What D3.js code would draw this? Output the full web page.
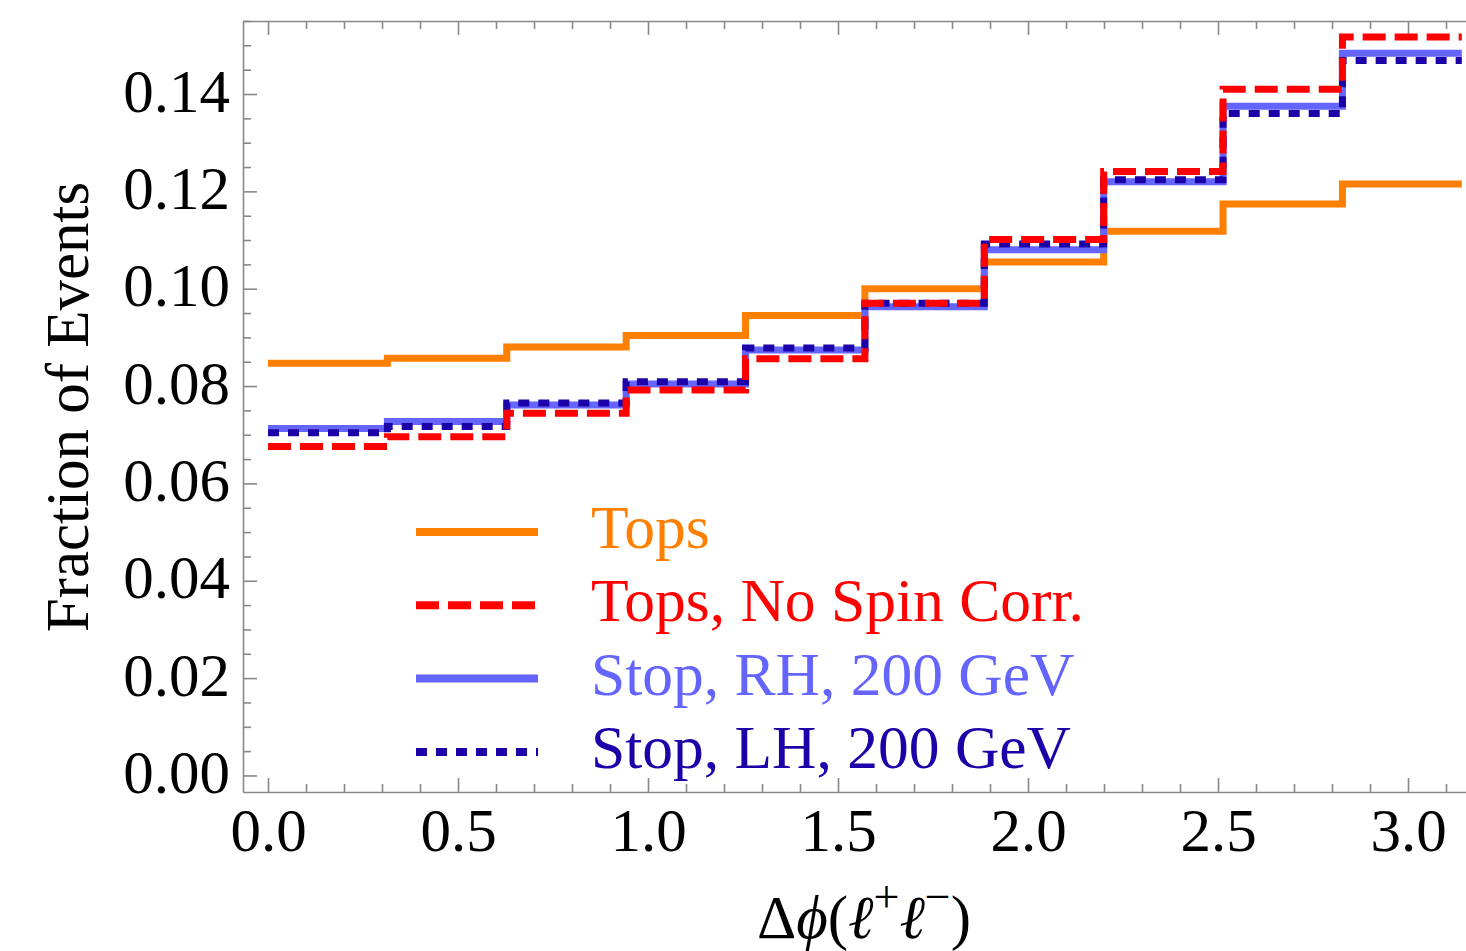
<!DOCTYPE html>
<html>
<meta charset="utf-8">
<style>
  body { margin: 0; background: #fff; }
  text { font-family: "Liberation Serif", "Times New Roman", serif; }
  .axis path, .axis line { stroke: #888; stroke-width: 1.6px; }
  .axis text { fill: #000; font-size: 61px; font-family: "Liberation Serif", "Times New Roman", serif; }
</style>
<body>
<div id="viz"></div>
<script src="https://d3js.org/d3.v7.min.js"></script>
<script>
  // bin lower edges: 10 bins of width pi/10
  var nBins = 10;
  var binEdges = d3.range(nBins + 1).map(function(i) { return i * Math.PI / nBins; });

  var seriesNames = ["Tops", "Tops, No Spin Corr.", "Stop, RH, 200 GeV", "Stop, LH, 200 GeV"];
  var tops       = [0.0847, 0.0857, 0.0880, 0.0904, 0.0945, 0.1000, 0.1055, 0.1118, 0.1174, 0.1215];
  var topsNoSpin = [0.0676, 0.0696, 0.0744, 0.0792, 0.0856, 0.0970, 0.1101, 0.1241, 0.1410, 0.1517];
  var stopRH     = [0.0713, 0.0727, 0.0761, 0.0804, 0.0874, 0.0963, 0.1080, 0.1220, 0.1375, 0.1484];
  var stopLH     = [0.0704, 0.0717, 0.0765, 0.0809, 0.0878, 0.0970, 0.1092, 0.1224, 0.1360, 0.1469];

  var yMajorTicks = [0, 0.02, 0.04, 0.06, 0.08, 0.10, 0.12, 0.14];
  var xMajorTicks = [0, 0.5, 1.0, 1.5, 2.0, 2.5, 3.0];

  var styles = [
    { color: "#ff7f00", dash: null },
    { color: "#ff0000", dash: "23,9" },
    { color: "#6464ff", dash: null },
    { color: "#1c00a8", dash: "11,9" }
  ];

  var W = 1466, H = 951;
  var svg = d3.select("#viz").append("svg").attr("width", W).attr("height", H);

  // careful: "top" is taken by window.top
  var pLeft = 243, pRight = 1466, pTop = 21, pBottom = 792;
  var x = d3.scaleLinear().domain([-0.0658, 3.1526]).range([pLeft, pRight]);
  var y = d3.scaleLinear().domain([-0.0034, 0.155]).range([pBottom, pTop]);

  // minor ticks
  var xMinor = d3.range(0, 3.15, 0.1).filter(function(v) { return Math.abs(v * 2 - Math.round(v * 2)) > 1e-6; });
  var yMinor = d3.range(0, 0.156, 0.005).filter(function(v) { return Math.abs(v / 0.02 - Math.round(v / 0.02)) > 1e-6; });

  // bottom axis
  var gB = svg.append("g").attr("class", "axis").attr("transform", "translate(0," + pBottom + ")");
  gB.call(d3.axisBottom(x).tickValues(xMajorTicks).tickFormat(d3.format(".1f")).tickSizeInner(-14).tickSizeOuter(0));
  gB.selectAll("text").attr("y", 59).attr("dy", 0);
  svg.append("g").attr("class", "axis").attr("transform", "translate(0," + pBottom + ")")
    .call(d3.axisBottom(x).tickValues(xMinor).tickFormat("").tickSizeInner(-8).tickSizeOuter(0))
    .select(".domain").remove();

  // top axis (ticks only)
  var gT = svg.append("g").attr("class", "axis").attr("transform", "translate(0," + pTop + ")");
  gT.call(d3.axisTop(x).tickValues(xMajorTicks).tickFormat("").tickSizeInner(-14).tickSizeOuter(0));
  svg.append("g").attr("class", "axis").attr("transform", "translate(0," + pTop + ")")
    .call(d3.axisTop(x).tickValues(xMinor).tickFormat("").tickSizeInner(-8).tickSizeOuter(0))
    .select(".domain").remove();

  // left axis
  var gL = svg.append("g").attr("class", "axis").attr("transform", "translate(" + pLeft + ",0)");
  gL.call(d3.axisLeft(y).tickValues(yMajorTicks).tickFormat(d3.format(".2f")).tickSizeInner(-14).tickSizeOuter(0));
  gL.selectAll("text").attr("x", -13).attr("dy", "0.28em");
  svg.append("g").attr("class", "axis").attr("transform", "translate(" + pLeft + ",0)")
    .call(d3.axisLeft(y).tickValues(yMinor).tickFormat("").tickSizeInner(-8).tickSizeOuter(0))
    .select(".domain").remove();

  // step histograms
  var allSeries = [tops, topsNoSpin, stopRH, stopLH];
  var line = d3.line()
    .x(function(d) { return x(d[0]); })
    .y(function(d) { return y(d[1]); })
    .curve(d3.curveStepAfter);

  var drawOrder = [0, 2, 3, 1];
  drawOrder.forEach(function(k) {
    var vals = allSeries[k];
    var pts = vals.map(function(v, i) { return [binEdges[i], v]; });
    pts.push([binEdges[nBins], vals[nBins - 1]]);
    svg.append("path")
      .attr("d", line(pts))
      .attr("fill", "none")
      .attr("stroke", styles[k].color)
      .attr("stroke-width", 7)
      .attr("stroke-dasharray", styles[k].dash);
  });

  // legend
  var leg = svg.append("g");
  seriesNames.forEach(function(name, i) {
    var ly = 532 + i * 73.3;
    leg.append("line")
      .attr("x1", 416).attr("x2", 538).attr("y1", ly).attr("y2", ly)
      .attr("stroke", styles[i].color)
      .attr("stroke-width", 8)
      .attr("stroke-dasharray", styles[i].dash);
    leg.append("text")
      .attr("x", 591).attr("y", ly + 16)
      .attr("fill", styles[i].color)
      .style("font-size", "61.5px")
      .text(name);
  });

  // axis titles
  svg.append("text")
    .attr("transform", "translate(88,407) rotate(-90)")
    .attr("text-anchor", "middle")
    .style("font-size", "61px")
    .text("Fraction of Events");

  var xt = svg.append("text")
    .attr("x", 864).attr("y", 938)
    .attr("text-anchor", "middle")
    .style("font-size", "61px");
  xt.append("tspan").text("\u0394");
  xt.append("tspan").style("font-style", "italic").text("\u03d5");
  xt.append("tspan").text("(");
  xt.append("tspan").style("font-style", "italic").text("\u2113");
  xt.append("tspan").attr("dy", -26).style("font-size", "46px").text("+");
  xt.append("tspan").attr("dy", 26).style("font-style", "italic").text("\u2113");
  xt.append("tspan").attr("dy", -26).style("font-size", "46px").text("\u2212");
  xt.append("tspan").attr("dy", 26).text(")");
</script>
</body>
</html>
